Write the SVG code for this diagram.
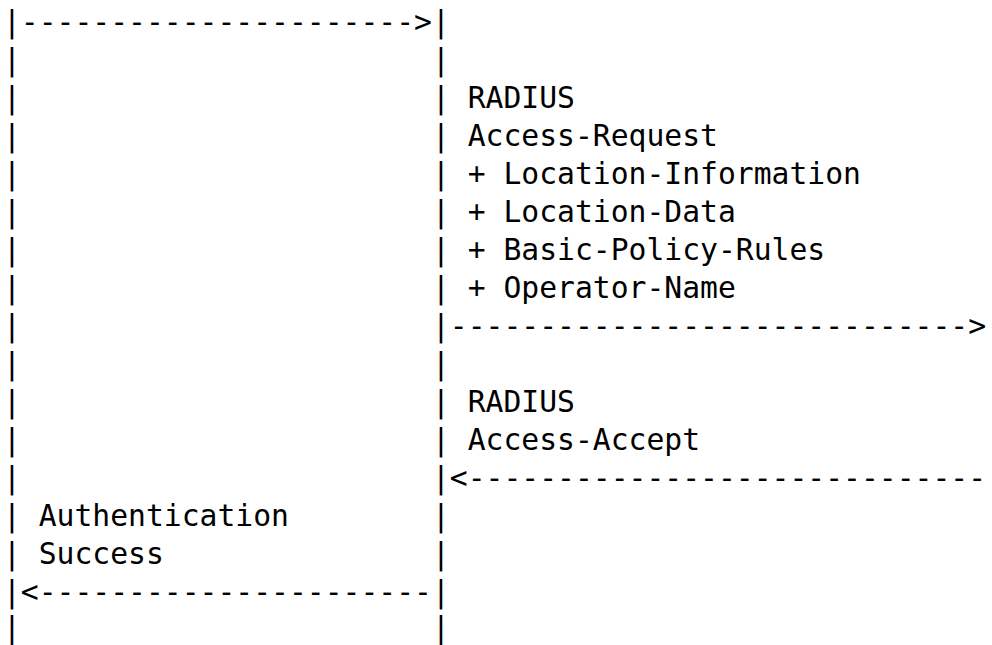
<svg xmlns="http://www.w3.org/2000/svg" width="992" height="645" viewBox="0 0 992 645">
<style>
text{font-family:"DejaVu Sans Mono","Liberation Mono",monospace;font-size:29.7px;fill:#000;white-space:pre}
</style>
<rect width="992" height="645" fill="#fff"/>
<g id="ascii-figure" xml:space="preserve">
<text x="3" y="32">|----------------------&gt;|</text>
<text x="3" y="70">|                       |</text>
<text x="3" y="108">|                       | RADIUS</text>
<text x="3" y="146">|                       | Access-Request</text>
<text x="3" y="184">|                       | + Location-Information</text>
<text x="3" y="222">|                       | + Location-Data</text>
<text x="3" y="260">|                       | + Basic-Policy-Rules</text>
<text x="3" y="298">|                       | + Operator-Name</text>
<text x="3" y="336">|                       |-----------------------------&gt;</text>
<text x="3" y="374">|                       |</text>
<text x="3" y="412">|                       | RADIUS</text>
<text x="3" y="450">|                       | Access-Accept</text>
<text x="3" y="488">|                       |&lt;-----------------------------</text>
<text x="3" y="526">| Authentication        |</text>
<text x="3" y="564">| Success               |</text>
<text x="3" y="602">|&lt;----------------------|</text>
<text x="3" y="638">|                       |</text>
</g>
</svg>
